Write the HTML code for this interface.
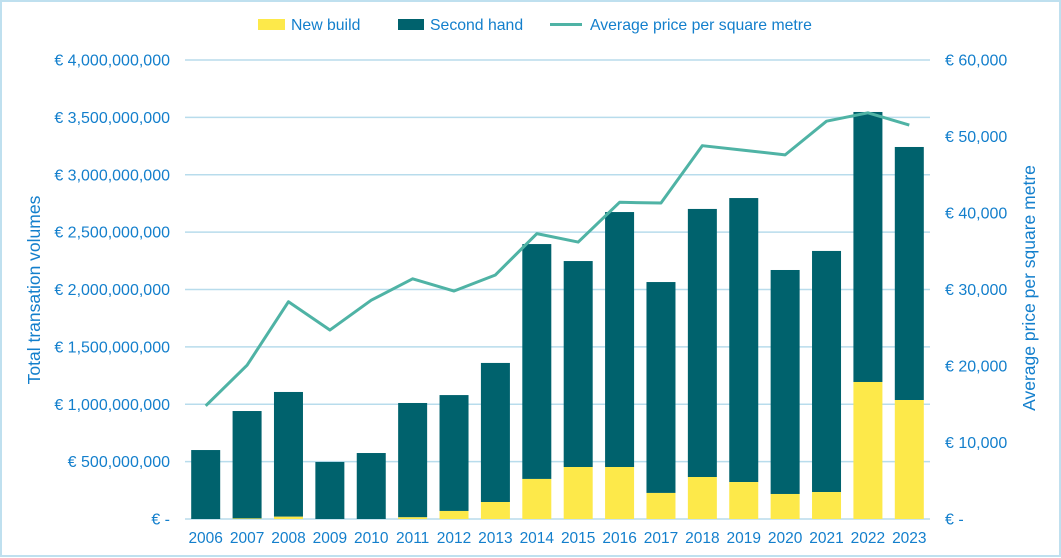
<!DOCTYPE html>
<html><head><meta charset="utf-8"><style>
body{margin:0;background:#fff;}
svg{display:block;font-family:"Liberation Sans",sans-serif;}
</style></head><body>
<svg id="chart" width="1061" height="558">
<rect x="1" y="1" width="1059" height="555" fill="#fff" stroke="#bfe0ef" stroke-width="2"/>
<g id="grid"></g><g id="bars"></g><g id="line"></g><g id="axes"></g>
<g font-size="15.8" fill="#137fcc">
<rect x="258" y="19" width="27" height="11" fill="#fde94a"/>
<text x="291" y="30">New build</text>
<rect x="398" y="19" width="26" height="11" fill="#00626d"/>
<text x="430" y="30">Second hand</text>
<line x1="550" y1="24.5" x2="582" y2="24.5" stroke="#4fb3a5" stroke-width="3"/>
<text x="590" y="30">Average price per square metre</text>
</g>
<text transform="translate(40,290) rotate(-90)" text-anchor="middle" font-size="17.5" fill="#137fcc">Total transation volumes</text>
<text transform="translate(1035,288) rotate(-90)" text-anchor="middle" font-size="17.5" fill="#137fcc">Average price per square metre</text>
</svg>
<script>
const years=[2006,2007,2008,2009,2010,2011,2012,2013,2014,2015,2016,2017,2018,2019,2020,2021,2022,2023];
const newBuild=[0,5e6,20e6,0,0,15e6,70e6,148e6,349e6,453e6,453e6,227e6,366e6,322e6,218e6,235e6,1194e6,1037e6];
const totals=[601e6,941e6,1107e6,497e6,575e6,1011e6,1080e6,1360e6,2396e6,2248e6,2675e6,2065e6,2702e6,2797e6,2170e6,2336e6,3547e6,3242e6];
const avgPrice=[14800,20100,28400,24700,28600,31400,29800,31900,37300,36200,41400,41300,48800,48200,47600,52000,53100,51500];
const leftTicks=[0,5e8,1e9,1.5e9,2e9,2.5e9,3e9,3.5e9,4e9];
const leftLabels=["€ -","€ 500,000,000","€ 1,000,000,000","€ 1,500,000,000","€ 2,000,000,000","€ 2,500,000,000","€ 3,000,000,000","€ 3,500,000,000","€ 4,000,000,000"];
const rightTicks=[0,10000,20000,30000,40000,50000,60000];
const rightLabels=["€ -","€ 10,000","€ 20,000","€ 30,000","€ 40,000","€ 50,000","€ 60,000"];
const NS="http://www.w3.org/2000/svg";
const X0=185,X1=930,Y0=519,Y1=60;
const step=(X1-X0)/years.length;
const xc=i=>X0+step*(i+0.5);
const yL=v=>Y0-(v/4e9)*(Y0-Y1);
const yR=v=>Y0-(v/60000)*(Y0-Y1);
function mk(tag,attrs,parent){const e=document.createElementNS(NS,tag);for(const k in attrs)e.setAttribute(k,attrs[k]);document.getElementById(parent).appendChild(e);return e;}
leftTicks.forEach((t,i)=>{
  const g=mk('line',{x1:X0,x2:X1,y1:yL(t),y2:yL(t),stroke:'#b8dcec','stroke-width':1.5},'grid');
  
  
  const tx=mk('text',{x:170,y:yL(t)+5.5,'text-anchor':'end','font-size':16,fill:'#137fcc'},'axes');
  tx.textContent=leftLabels[i];
  
  
});
rightTicks.forEach((t,i)=>{
  const tx=mk('text',{x:945,y:yR(t)+5.5,'font-size':16,fill:'#137fcc'},'axes');
  tx.textContent=rightLabels[i];
  
  
});
const bw=29;
years.forEach((yr,i)=>{
  const sh=mk('rect',{x:xc(i)-bw/2,y:yL(totals[i]),width:bw,height:yL(newBuild[i])-yL(totals[i]),fill:'#00626d'},'bars');
  
  
  const nb=mk('rect',{x:xc(i)-bw/2,y:yL(newBuild[i]),width:bw,height:Y0-yL(newBuild[i]),fill:'#fde94a'},'bars');
  
  
  const tx=mk('text',{x:xc(i),y:543,'text-anchor':'middle','font-size':15.5,fill:'#137fcc'},'axes');
  tx.textContent=yr;
  
  
});
const pl=mk('polyline',{points:avgPrice.map((v,i)=>xc(i)+','+yR(v)).join(' '),fill:'none',stroke:'#4fb3a5','stroke-width':3,'stroke-linejoin':'round'},'line');


</script>
</body></html>
